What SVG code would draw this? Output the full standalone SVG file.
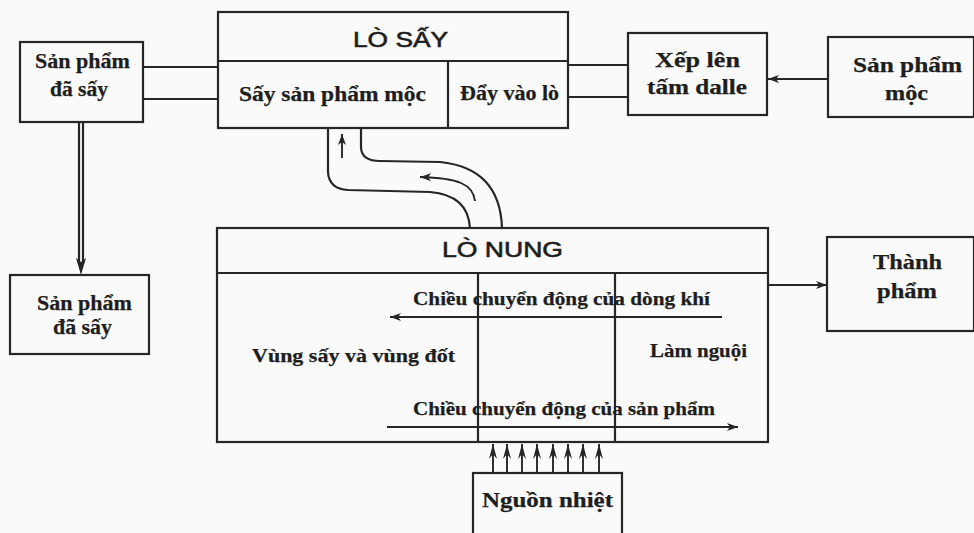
<svg xmlns="http://www.w3.org/2000/svg" width="974" height="533" viewBox="0 0 974 533">
  <style>
    .box { fill: none; stroke: #262626; stroke-width: 2.2; }
    .ln { fill: none; stroke: #262626; stroke-width: 2.2; }
    .thin { fill: none; stroke: #262626; stroke-width: 1.9; }
    .lbl { font-family: "Liberation Serif", "Times New Roman", serif; font-weight: bold; font-size: 21px; fill: #1e1e1e; stroke: #1e1e1e; stroke-width: 0.25; }
    .sm { font-size: 19px; }
    .head { font-family: "Liberation Sans", Arial, sans-serif; font-size: 22px; fill: #1e1e1e; stroke: #1e1e1e; stroke-width: 0.6; }
  </style>
  <defs>
    <marker id="arr" markerUnits="userSpaceOnUse" markerWidth="12" markerHeight="10" refX="11" refY="5" orient="auto">
      <path d="M0,1 L11,5 L0,9 L3,5 z" fill="#262626"/>
    </marker>
    <marker id="heat" markerUnits="userSpaceOnUse" markerWidth="16" markerHeight="9" refX="15" refY="4.5" orient="auto">
      <path d="M0,0.5 L15,4.5 L0,8.5 L5,4.5 z" fill="#262626"/>
    </marker>
  </defs>

  <rect width="974" height="533" fill="#fafafa"/>

  <!-- drying kiln -->
  <g id="lo-say">
    <rect class="box" x="218" y="12" width="350" height="116"/>
    <line class="ln" x1="218" y1="61" x2="568" y2="61"/>
    <line class="ln" x1="448" y1="61" x2="448" y2="128"/>
    <text class="head" x="353" y="47" textLength="95" lengthAdjust="spacingAndGlyphs">LÒ SẤY</text>
    <text class="lbl" x="239" y="101" textLength="187" lengthAdjust="spacingAndGlyphs">Sấy sản phẩm mộc</text>
    <text class="lbl" x="460" y="100" textLength="99" lengthAdjust="spacingAndGlyphs">Đẩy vào lò</text>
  </g>

  <g id="san-pham-da-say-1">
    <rect class="box" x="20" y="42" width="123" height="80"/>
    <text class="lbl" x="35" y="68" textLength="95" lengthAdjust="spacingAndGlyphs">Sản phẩm</text>
    <text class="lbl" x="50" y="96" textLength="58" lengthAdjust="spacingAndGlyphs">đã sấy</text>
  </g>

  <g id="san-pham-da-say-2">
    <rect class="box" x="10" y="275" width="139" height="79"/>
    <text class="lbl" x="37" y="310" textLength="95" lengthAdjust="spacingAndGlyphs">Sản phẩm</text>
    <text class="lbl" x="53" y="334" textLength="59" lengthAdjust="spacingAndGlyphs">đã sấy</text>
  </g>

  <g id="xep-len">
    <rect class="box" x="628" y="33" width="139" height="82"/>
    <text class="lbl" x="655" y="67" textLength="85" lengthAdjust="spacingAndGlyphs">Xếp lên</text>
    <text class="lbl" x="647" y="94" textLength="100" lengthAdjust="spacingAndGlyphs">tấm dalle</text>
  </g>

  <g id="san-pham-moc">
    <rect class="box" x="828" y="37" width="146" height="80"/>
    <text class="lbl" x="853" y="72" textLength="109" lengthAdjust="spacingAndGlyphs">Sản phẩm</text>
    <text class="lbl" x="885" y="100" textLength="43" lengthAdjust="spacingAndGlyphs">mộc</text>
  </g>

  <g id="thanh-pham">
    <rect class="box" x="827" y="237" width="147" height="94"/>
    <text class="lbl" x="873" y="269" textLength="69" lengthAdjust="spacingAndGlyphs">Thành</text>
    <text class="lbl" x="877" y="298" textLength="60" lengthAdjust="spacingAndGlyphs">phẩm</text>
  </g>

  <!-- firing kiln -->
  <g id="lo-nung">
    <rect class="box" x="217" y="228" width="551" height="214"/>
    <line class="ln" x1="217" y1="273" x2="768" y2="273"/>
    <line class="ln" x1="478" y1="273" x2="478" y2="442"/>
    <line class="ln" x1="615" y1="273" x2="615" y2="442"/>
    <text class="head" x="442" y="257" textLength="121" lengthAdjust="spacingAndGlyphs">LÒ NUNG</text>
    <text class="lbl sm" x="413" y="305" textLength="297" lengthAdjust="spacingAndGlyphs">Chiều chuyển động của  dòng khí</text>
    <text class="lbl sm" x="252" y="362" textLength="203" lengthAdjust="spacingAndGlyphs">Vùng sấy và vùng đốt</text>
    <text class="lbl sm" x="650" y="357" textLength="97" lengthAdjust="spacingAndGlyphs">Làm nguội</text>
    <text class="lbl sm" x="413" y="415" textLength="302" lengthAdjust="spacingAndGlyphs">Chiều chuyển động của sản phẩm</text>
    <line class="thin" x1="722" y1="317" x2="390" y2="317" marker-end="url(#arr)"/>
    <line class="thin" x1="387" y1="427" x2="738" y2="427" marker-end="url(#arr)"/>
  </g>

  <g id="nguon-nhiet">
    <rect class="box" x="473" y="473" width="149" height="70"/>
    <text class="lbl" x="482" y="507" textLength="131" lengthAdjust="spacingAndGlyphs">Nguồn nhiệt</text>
  </g>

  <!-- connectors -->
  <g id="connectors">
    <line class="ln" x1="143" y1="67" x2="218" y2="67"/>
    <line class="ln" x1="143" y1="99" x2="218" y2="99"/>
    <line class="ln" x1="568" y1="65" x2="628" y2="65"/>
    <line class="ln" x1="568" y1="97" x2="628" y2="97"/>
    <line class="thin" x1="828" y1="79" x2="768" y2="79" marker-end="url(#arr)"/>
    <line class="thin" x1="768" y1="285" x2="827" y2="285" marker-end="url(#arr)"/>
    <!-- double shaft down to dried products -->
    <line class="ln" x1="79" y1="122" x2="79" y2="264"/>
    <line class="ln" x1="83" y1="122" x2="83" y2="264"/>
    <path d="M76,258 L81,275 L86,258 L81,262 z" fill="#262626"/>
    <!-- hot gas duct from firing kiln to drying kiln -->
    <path class="ln" d="M328,128 L328,172 Q329,189 348,190 L430,192 Q468,195 470,228"/>
    <path class="ln" d="M361,128 L361,148 Q362,161 380,161 L440,162 Q500,168 502,228"/>
    <path class="thin" d="M475,201 C473,184 458,178 420,177" marker-end="url(#arr)"/>
    <line class="thin" x1="342" y1="158" x2="342" y2="134" marker-end="url(#arr)"/>
    <!-- heat supply arrows -->
    <g class="thin">
      <line x1="493" y1="473" x2="493" y2="444" marker-end="url(#heat)"/>
      <line x1="507" y1="473" x2="507" y2="444" marker-end="url(#heat)"/>
      <line x1="522" y1="473" x2="522" y2="444" marker-end="url(#heat)"/>
      <line x1="537" y1="473" x2="537" y2="444" marker-end="url(#heat)"/>
      <line x1="553" y1="473" x2="553" y2="444" marker-end="url(#heat)"/>
      <line x1="568" y1="473" x2="568" y2="444" marker-end="url(#heat)"/>
      <line x1="583" y1="473" x2="583" y2="444" marker-end="url(#heat)"/>
      <line x1="599" y1="473" x2="599" y2="444" marker-end="url(#heat)"/>
    </g>
  </g>
</svg>
